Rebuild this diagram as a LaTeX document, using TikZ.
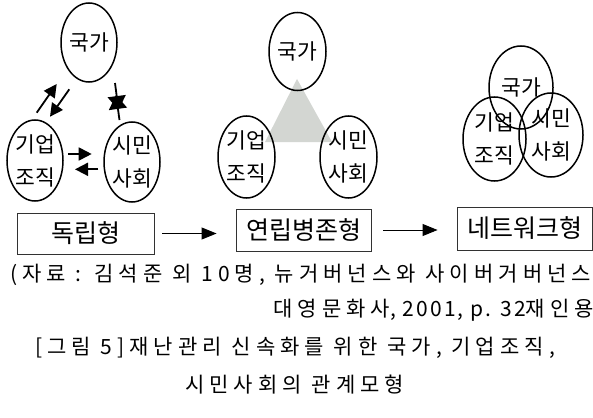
\documentclass[tikz,border=0pt]{standalone}
\usepackage{fontspec}
\newfontfamily\kr{Noto Sans CJK KR}
\newfontfamily\krcap{Noto Sans CJK KR}[LetterSpace=24]
\newfontfamily\krcapn{Noto Sans CJK KR}[LetterSpace=10]
\usetikzlibrary{shapes.geometric,arrows.meta}
\definecolor{trigray}{RGB}{211,214,210}
\definecolor{boxline}{RGB}{50,50,50}
\begin{document}
\begin{tikzpicture}[x=1pt,y=-1pt,
  ell/.style={draw, ellipse, line width=1.5pt, inner sep=0pt, align=center,
    font={\kr\fontsize{21.5}{33}\selectfont}},
  sarr/.style={line width=1.8pt, -{Triangle[length=13pt,width=13pt]}},
  barr/.style={line width=0.9pt, -{Triangle[length=15pt,width=12pt]}},
  bx/.style={draw=boxline, line width=0.9pt, inner sep=0pt,
    font={\kr\fontsize{25}{30}\selectfont}},
  captxt/.style={inner sep=0pt, font={\krcap\fontsize{21}{25}\selectfont}}]
\useasboundingbox (0,0) rectangle (593,417);
\fill[white] (0,0) rectangle (593,417);

% left group: independent
\node[ell, minimum width=56pt, minimum height=79pt] (LG) at (89,42.5) {국가};
\node[ell, minimum width=56pt, minimum height=81pt] (LB) at (35,160.5) {기업\\조직};
\node[ell, minimum width=56pt, minimum height=80pt] (LC) at (132,162) {시민\\사회};

\coordinate (a1s) at (36.7,112.7); \coordinate (a1e) at (56.7,84);
\coordinate (a2s) at (69.3,89.3);  \coordinate (a2e) at (50,116.7);
\coordinate (a3s) at (115,83);     \coordinate (a3e) at (118.5,110);
\coordinate (a4s) at (119.5,120);  \coordinate (a4e) at (116,95);
\coordinate (a5s) at (68.3,154);   \coordinate (a5e) at (91.7,154);
\coordinate (a6s) at (98.3,169.3); \coordinate (a6e) at (75,169.3);
\draw[sarr] (a1s) -- (a1e);
\draw[sarr] (a2s) -- (a2e);
\draw[sarr, -{Triangle[length=14pt,width=18pt]}] (a3s) -- (a3e);
\draw[sarr, -{Triangle[length=14pt,width=18pt]}] (a4s) -- (a4e);
\draw[sarr] (a5s) -- (a5e);
\draw[sarr] (a6s) -- (a6e);

% middle group: coalition
\fill[trigray] (297,79) -- (265,142) -- (332,142) -- cycle;
\node[ell, minimum width=57pt, minimum height=78pt] (MG) at (297.5,51.5) {국가};
\node[ell, minimum width=57pt, minimum height=82pt] (MB) at (246.5,157) {기업\\조직};
\node[ell, minimum width=57pt, minimum height=82pt] (MC) at (348.5,157) {시민\\사회};

% right group: network
\node[ell, minimum width=64pt, minimum height=83pt] (RG) at (521,87.5) {국가};
\node[ell, minimum width=63pt, minimum height=84pt] (RB) at (494.5,139) {기업\\조직};
\node[ell, minimum width=64pt, minimum height=84pt] (RC) at (551,135) {시민\\사회};

% boxes
\node[bx, minimum width=137pt, minimum height=41pt] (B1) at (85.5,233.5) {독립형};
\node[bx, minimum width=135pt, minimum height=42pt] (B2) at (303.5,230) {연립병존형};
\node[bx, minimum width=135pt, minimum height=43pt] (B3) at (524.5,228.5) {네트워크형};
\draw[barr, shorten <=8pt, shorten >=19pt] (B1.east) -- (B2.west |- B1.east);
\draw[barr, shorten <=12pt, shorten >=19pt] (B2.east) -- (B3.west |- B2.east);

% caption
\node[captxt, anchor=west] (c1) at (10,275) {(자료 : 김석준 외 10명, 뉴거버넌스와 사이버거버넌스};
\node[captxt, anchor=east] (c2) at (594,310) {대영문화사{\krcapn, 2001, p. 32}재인용};
\node[captxt, anchor=west] (c3) at (35,348) {[그림 5]재난관리 신속화를 위한 국가, 기업조직,};
\node[captxt, anchor=west] (c4) at (185,385) {시민사회의 관계모형};
\end{tikzpicture}
\end{document}
